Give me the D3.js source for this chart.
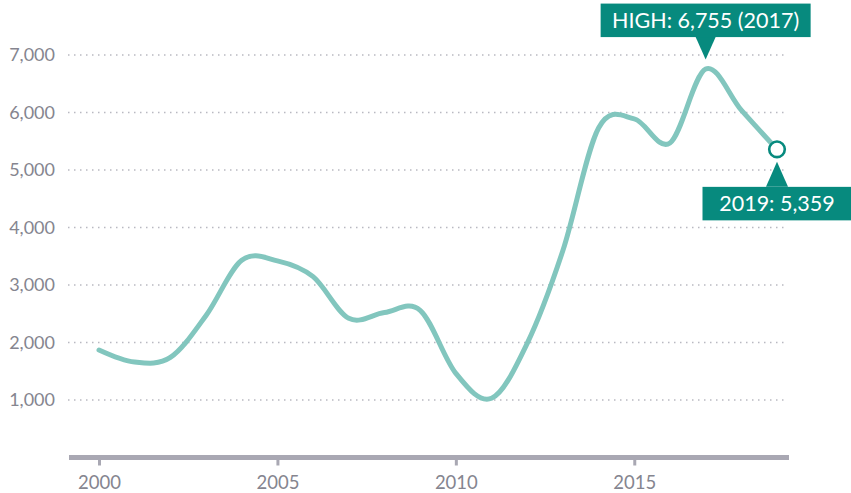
<!DOCTYPE html>
<html>
<head>
<meta charset="utf-8">
<script src="https://cdn.jsdelivr.net/npm/d3@7"></script>
<style>
  body { margin: 0; background: #fff; }
  svg { display: block; font-family: Lato, sans-serif; }
</style>
</head>
<body>
<div class="chart"></div>
<script>
const years = [2000, 2001, 2002, 2003, 2004, 2005, 2006, 2007, 2008, 2009,
               2010, 2011, 2012, 2013, 2014, 2015, 2016, 2017, 2018, 2019]
const values = [1870, 1660, 1740, 2470, 3430, 3420, 3145, 2420, 2520, 2560,
                1464, 1030, 1986, 3600, 5730, 5890, 5470, 6755, 6040, 5359]
const yTicks = [1000, 2000, 3000, 4000, 5000, 6000, 7000]
const xTicks = [2000, 2005, 2010, 2015]
const highLabel = 'HIGH: 6,755 (2017)'
const lastLabel = '2019: 5,359'

const width = 851
const height = 493
const lineColor = '#82c6be'
const boxColor = '#078a7e'
const greyText = '#85858f'

const data = years.map((y, i) => ({year: y, value: values[i]}))

const x = d3.scaleLinear().domain([2000, 2019]).range([99, 777])
const y = d3.scaleLinear().domain([0, 7000]).range([457.5, 55])

const svg = d3.select('.chart').append('svg')
  .attr('width', width)
  .attr('height', height)

// dotted gridlines
svg.append('g').selectAll('line')
  .data(yTicks)
  .join('line')
    .attr('x1', 68)
    .attr('x2', 786)
    .attr('y1', d => y(d))
    .attr('y2', d => y(d))
    .attr('stroke', '#b9b9c1')
    .attr('stroke-width', 1.5)
    .attr('stroke-dasharray', '1.5,4.5')

// y labels
svg.append('g').selectAll('text')
  .data(yTicks)
  .join('text')
    .attr('x', 55)
    .attr('y', d => y(d))
    .attr('dy', '0.35em')
    .attr('text-anchor', 'end')
    .attr('font-size', 18)
    .attr('fill', greyText)
    .text(d => d3.format(',')(d))

// x axis
const xAxis = d3.axisBottom(x)
  .tickValues(xTicks)
  .tickFormat(d3.format('d'))
  .tickSize(8)
  .tickPadding(10)

const gx = svg.append('g')
  .attr('transform', `translate(0,${y(0)})`)
  .call(xAxis)
gx.select('.domain').remove()
gx.selectAll('.tick line')
  .attr('stroke', '#a9a8b3')
  .attr('stroke-width', 3)
gx.selectAll('.tick text')
  .attr('fill', greyText)
  .attr('font-size', 18.5)
  .attr('font-family', 'Lato, sans-serif')
gx.append('line')
  .attr('x1', 69)
  .attr('x2', 789)
  .attr('stroke', '#a9a8b3')
  .attr('stroke-width', 5)

// the line (uniform catmull-rom)
const line = d3.line()
  .x(d => x(d.year))
  .y(d => y(d.value))
  .curve(d3.curveCatmullRom.alpha(0))

svg.append('path')
  .datum(data)
  .attr('d', line)
  .attr('fill', 'none')
  .attr('stroke', lineColor)
  .attr('stroke-width', 5)
  .attr('stroke-linecap', 'round')

// annotations
const hi = data[17]
const last = data[data.length - 1]

const callout = (d, label, above, boxW) => {
  const cx = x(d.year)
  const g = svg.append('g')
  const boxH = 33.5
  if (above) {
    const tipY = y(d.value) - 9.5
    const boxBottom = tipY - 22.5
    g.append('path')
      .attr('d', `M${cx - 10},${boxBottom} L${cx},${tipY} L${cx + 10},${boxBottom} Z`)
      .attr('fill', boxColor)
    g.append('rect')
      .attr('x', cx - boxW / 2).attr('y', boxBottom - boxH)
      .attr('width', boxW).attr('height', boxH)
      .attr('fill', boxColor)
    g.append('text')
      .attr('x', cx).attr('y', boxBottom - boxH / 2)
      .attr('dy', '0.36em')
      .attr('text-anchor', 'middle')
      .attr('font-size', 21.5)
      .attr('fill', '#fff')
      .text(label)
  } else {
    const tipY = y(d.value) + 12.5
    const boxTop = tipY + 25
    g.append('path')
      .attr('d', `M${cx - 11},${boxTop} L${cx},${tipY} L${cx + 11},${boxTop} Z`)
      .attr('fill', boxColor)
    g.append('rect')
      .attr('x', cx - boxW / 2).attr('y', boxTop)
      .attr('width', boxW).attr('height', boxH)
      .attr('fill', boxColor)
    g.append('text')
      .attr('x', cx).attr('y', boxTop + boxH / 2)
      .attr('dy', '0.36em')
      .attr('text-anchor', 'middle')
      .attr('font-size', 21.5)
      .attr('fill', '#fff')
      .text(label)
  }
}

callout(hi, highLabel, true, 210)
callout(last, lastLabel, false, 149)

svg.append('circle')
  .attr('cx', x(last.year))
  .attr('cy', y(last.value))
  .attr('r', 7.8)
  .attr('fill', '#fff')
  .attr('stroke', boxColor)
  .attr('stroke-width', 2.6)
</script>
</body>
</html>
